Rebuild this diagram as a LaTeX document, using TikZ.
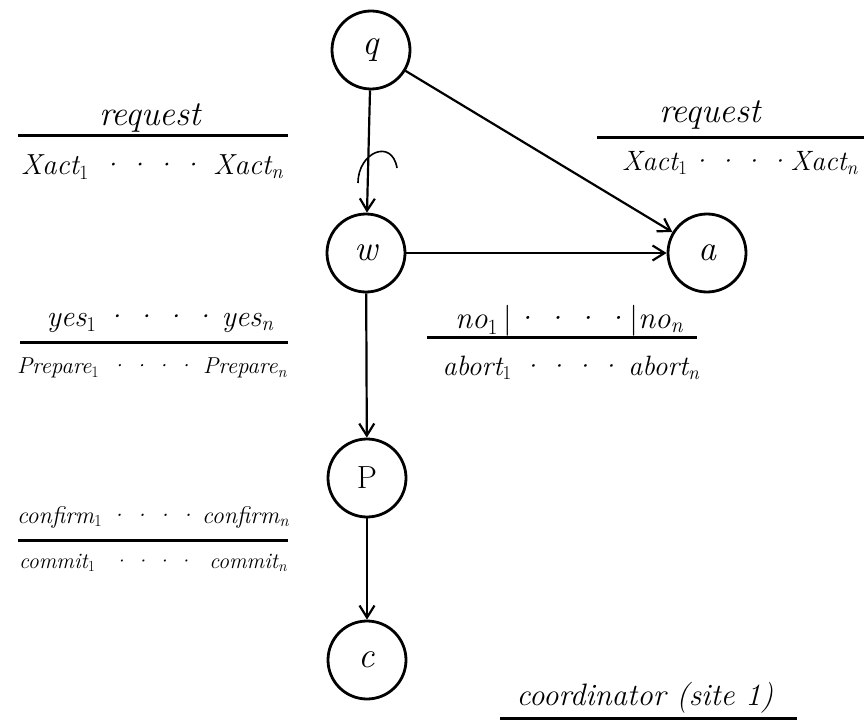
\documentclass[tikz,border=0pt]{standalone}
\usepackage{fontspec}
\setmainfont{Latin Modern Roman}
\usetikzlibrary{arrows.meta}
\newcommand{\spreadrow}[4]{\makebox[#1]{#2\hfill#3\hfill#4}}
\newcommand{\dotsrow}[1]{·\hspace{#1}·\hspace{#1}·\hspace{#1}·}
\newcommand{\sub}[1]{\textsubscript{\upshape#1}}
\newcommand{\subn}{\textsubscript{\itshape n}}
\newcommand{\fs}[1]{\fontsize{#1}{#1}\selectfont}
\newcommand{\vbar}{\textup{|}}
\tikzset{
  state/.style={circle, draw, line width=2.8pt, minimum size=78pt, inner sep=0pt,
                font=\fs{36}\itshape},
  edge/.style={line width=2.2pt, -{Straight Barb[length=12pt,width=15pt,line width=2.2pt]}},
  lab/.style={inner sep=0pt, font=\fs{30}\itshape},
  bar/.style={line width=3pt}
}
\begin{document}
\begin{tikzpicture}[x=1pt,y=-1pt]
\path[use as bounding box, fill=white] (0,0) rectangle (864,722);
% states
\node[state] (q) at (371,50) {q};
\node[state] (w) at (366,253) {w};
\node[state] (a) at (707,253) {a};
\node[state, font=\fs{32}] (p) at (367,478) {P};
\node[state] (c) at (367,660) {c};
% transitions
\draw[edge] (q) -- (w);
\draw[edge] (q) -- (a);
\draw[edge] (w) -- (a);
\draw[edge] (w) -- (p);
\draw[edge] (p) -- (c);
% hook mark on q->w
\coordinate (h1) at (358,183);
\coordinate (h2) at (397,168);
\draw[line width=1.6pt] (h1) .. controls (358,152) and (392,138) .. (h2);
% left: request / Xact
\node[lab, font=\fs{35}\itshape] (lreq) at (150,118) {request};
\coordinate (lb1s) at (18,136); \coordinate (lb1e) at (288,136);
\draw[bar] (lb1s) -- (lb1e);
\node[lab, font=\fs{29}\itshape] (lxact) at (152,167) {\spreadrow{262pt}{Xact\sub{1}}{\dotsrow{5pt}}{Xact\subn}};
% right: request / Xact
\node[lab, font=\fs{35}\itshape] (rreq) at (710,115) {request};
\coordinate (rb1s) at (597,138); \coordinate (rb1e) at (864,138);
\draw[bar] (rb1s) -- (rb1e);
\node[lab, font=\fs{28}\itshape] (rxact) at (740,163) {\spreadrow{236pt}{Xact\sub{1}}{\dotsrow{5pt}}{Xact\subn}};
% left: yes / prepare
\node[lab, font=\fs{30}\itshape] (yes) at (160,323) {\spreadrow{227pt}{yes\sub{1}}{\dotsrow{7pt}}{yes\subn}};
\coordinate (lb2s) at (20,342); \coordinate (lb2e) at (288,342);
\draw[bar] (lb2s) -- (lb2e);
\node[lab, font=\fs{23}\itshape] (prep) at (152,368) {\spreadrow{270pt}{Prepare\sub{1}}{\dotsrow{5pt}}{Prepare\subn}};
% right: no / abort
\node[lab, font=\fs{31}\itshape] (no) at (569,321) {\spreadrow{228pt}{no\sub{1}\,\vbar}{\dotsrow{7pt}}{\vbar no\subn}};
\coordinate (rb2s) at (427,337); \coordinate (rb2e) at (697,337);
\draw[bar] (rb2s) -- (rb2e);
\node[lab, font=\fs{28}\itshape] (abort) at (571,368) {\spreadrow{257pt}{abort\sub{1}}{\dotsrow{5pt}}{abort\subn}};
% left: confirm / commit
\node[lab, font=\fs{24}\itshape] (conf) at (153,517) {\spreadrow{272pt}{confirm\sub{1}}{\dotsrow{5pt}}{confirm\subn}};
\coordinate (lb3s) at (18,540); \coordinate (lb3e) at (288,540);
\draw[bar] (lb3s) -- (lb3e);
\node[lab, font=\fs{22}\itshape] (comm) at (153,563) {\spreadrow{268pt}{commit\sub{1}}{\dotsrow{5pt}}{commit\subn}};
% caption
\node[lab, font=\fs{31}\itshape] (coord) at (645,698) {coordinator (site 1)};
\coordinate (cbs) at (500,718); \coordinate (cbe) at (797,718);
\draw[bar] (cbs) -- (cbe);
\end{tikzpicture}
\end{document}
